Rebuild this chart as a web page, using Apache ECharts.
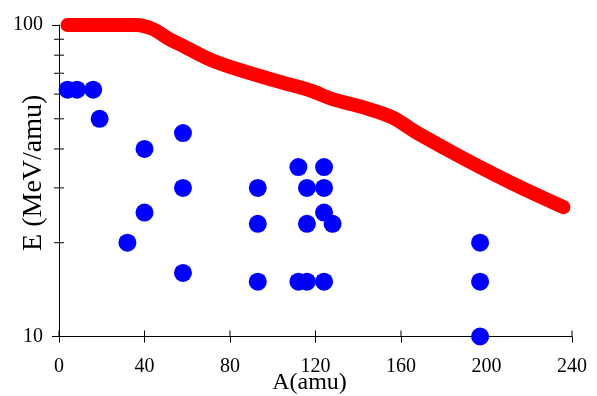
<!DOCTYPE html>
<html>
<head>
<meta charset="utf-8">
<script src="https://cdn.jsdelivr.net/npm/echarts@6/dist/echarts.min.js"></script>
<style>
html,body{margin:0;padding:0;background:#fff;}
#c{width:597px;height:396px;}
</style>
</head>
<body>
<div id="c"></div>
<script>
// Red curve: A (amu) and E (MeV/amu)
var redA = [4, 36, 44, 51, 59, 72, 88, 104, 118, 128, 144, 156, 167, 184, 198, 216, 236];
var redE = [100, 100, 97, 90.6, 85, 76.8, 70.5, 65.5, 61.5, 57.8, 54, 50.5, 45.3, 39, 34.7, 30.1, 26];
// Blue points
var blueA = [4, 8.4, 16, 19, 32, 40, 40, 58, 58, 58, 93, 93, 93, 112, 112, 116, 116, 116, 124, 124, 124, 124, 128, 197, 197, 197];
var blueE = [62, 62, 62, 50, 20, 40, 25, 45, 30, 16, 30, 23, 15, 35, 15, 30, 23, 15, 35, 30, 25, 15, 23, 20, 15, 10];
// Axis ticks
var xTicks = [0, 40, 80, 120, 160, 200, 240];
var yMinorTicks = [20, 30, 40, 50, 60, 70, 80, 90];

var FONT = "'Liberation Serif', 'Times New Roman', serif";
var chart = echarts.init(document.getElementById('c'), null, {renderer: 'canvas'});

function zip(a, b) { return a.map(function (v, i) { return [v, b[i]]; }); }

chart.setOption({
  animation: false,
  backgroundColor: '#fff',
  grid: {left: 59, right: 25, top: 25, bottom: 59.5, containLabel: false, outerBoundsMode: 'none'},
  xAxis: {
    type: 'value', min: 0, max: 240, interval: 40,
    name: 'A(amu)', nameLocation: 'middle', nameGap: 34, nameMoveOverlap: false,
    nameTextStyle: {fontFamily: FONT, fontSize: 24, color: '#000', padding: [0, 12, 0, 0]},
    axisLine: {show: true, onZero: false, lineStyle: {color: '#000', width: 1}},
    axisTick: {show: true, length: 6, lineStyle: {color: '#000'}},
    axisLabel: {fontFamily: FONT, fontSize: 20, color: '#000', margin: 20},
    splitLine: {show: false}
  },
  yAxis: {
    type: 'log', logBase: 10, min: 10, max: 100,
    name: 'E (MeV/amu)', nameLocation: 'middle', nameGap: 11, nameMoveOverlap: false,
    nameTextStyle: {fontFamily: FONT, fontSize: 28, color: '#000', padding: [0, 0, 0, 16]},
    axisLine: {show: true, lineStyle: {color: '#000', width: 1}},
    axisTick: {show: true, length: 7, lineStyle: {color: '#000'}},
    axisLabel: {fontFamily: FONT, fontSize: 20, color: '#000', margin: 16},
    splitLine: {show: false}
  },
  series: [
    {
      type: 'custom', silent: true, clip: false, z: 1,
      data: yMinorTicks.map(function (v) { return [0, v]; }),
      renderItem: function (params, api) {
        var p = api.coord([api.value(0), api.value(1)]);
        return {type: 'line', shape: {x1: p[0] - 5, y1: p[1], x2: p[0] + 5, y2: p[1]},
                style: {stroke: '#000', lineWidth: 1}};
      }
    },
    {
      type: 'custom', silent: true, clip: false, z: 1,
      data: xTicks.map(function (v) { return [v, 10]; }),
      renderItem: function (params, api) {
        var p = api.coord([api.value(0), api.value(1)]);
        return {type: 'line', shape: {x1: p[0], y1: p[1], x2: p[0], y2: p[1] - 6},
                style: {stroke: '#000', lineWidth: 1}};
      }
    },
    {
      type: 'line', data: zip(redA, redE), smooth: 0.3, showSymbol: false,
      clip: false, z: 3,
      lineStyle: {color: '#ff0000', width: 14, cap: 'round', join: 'round'}
    },
    {
      type: 'scatter', data: zip(blueA, blueE), symbol: 'circle', symbolSize: 18,
      clip: false, z: 4,
      itemStyle: {color: '#0000ff', opacity: 1}
    }
  ]
});
</script>
</body>
</html>
